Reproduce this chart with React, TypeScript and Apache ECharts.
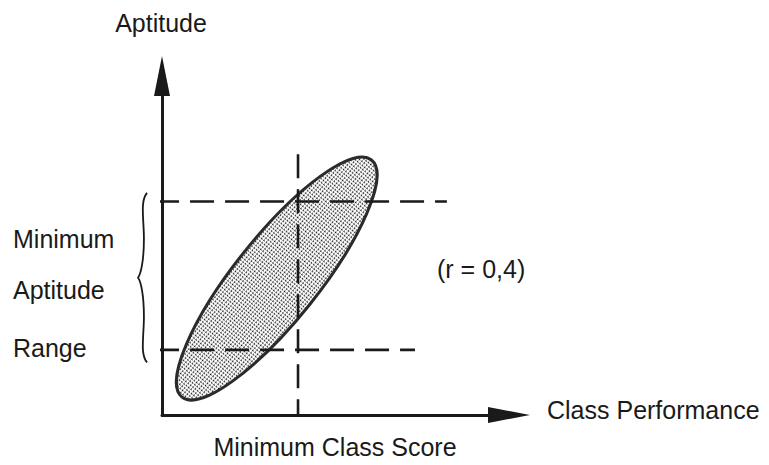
import React, { useEffect, useRef } from "react";
import * as echarts from "echarts";

// ---- data (chart units) ----
const xExtent = [0, 10];
const yExtent = [0, 10];
const minClassScore = 3.92;
const minClassLineTop = 7.69;
const rangeLow = 1.92;
const rangeHigh = 6.3;
const rangeLineStart = -0.2;
const rangeLowEnd = 7.29;
const rangeHighEnd = 8.21;
const ellipseCenter = [3.31, 4.03];
const ellipseMajorEnd = [6.04, 7.53];
const ellipseMinorHalf = 1.21;
const braceX = [-0.69, -0.43];
const braceY = [1.55, 6.55];

// ---- texts ----
const yAxisTitle = "Aptitude";
const xAxisTitle = "Class Performance";
const scoreLabel = "Minimum Class Score";
const corrLabel = "(r = 0,4)";
const leftLabels = ["Minimum", "Aptitude", "Range"];

const FONT = "'Liberation Sans', Arial, Helvetica, sans-serif";
const INK = "#1a1a1a";

function makeDotPattern() {
  const c = document.createElement("canvas");
  c.width = 3;
  c.height = 3;
  const ctx = c.getContext("2d")!;
  ctx.fillStyle = "#ffffff";
  ctx.fillRect(0, 0, 3, 3);
  ctx.fillStyle = "rgba(20,20,20,1)";
  ctx.fillRect(1, 1, 1, 1);
  ctx.fillStyle = "rgba(20,20,20,0.6)";
  ctx.fillRect(2, 1, 1, 1);
  ctx.fillRect(1, 2, 1, 1);
  return c;
}

export default function App() {
  const ref = useRef<HTMLDivElement>(null);

  useEffect(() => {
    document.body.style.margin = "0";
    const chart = echarts.init(ref.current!, null, { renderer: "svg" });
    const pattern = makeDotPattern();

    const dashStyle = { color: INK, width: 2.6, type: [24, 11] as any };

    const textEl = (text: string, x: number, y: number, align: string) => ({
      type: "text",
      x,
      y,
      style: {
        text,
        fill: INK,
        fontSize: 25,
        fontFamily: FONT,
        textAlign: align,
        textVerticalAlign: "middle",
      },
    });

    const leftY = [239, 290, 348];

    chart.setOption({
      animation: false,
      grid: { left: 162, top: 76, width: 347, height: 339 },
      xAxis: {
        type: "value",
        min: xExtent[0],
        max: xExtent[1],
        axisLine: {
          show: true,
          symbol: ["none", "triangle"],
          symbolSize: [16, 42],
          lineStyle: { color: INK, width: 3 },
        },
        axisTick: { show: false },
        axisLabel: { show: false },
        splitLine: { show: false },
      },
      yAxis: {
        type: "value",
        min: yExtent[0],
        max: yExtent[1],
        axisLine: {
          show: true,
          symbol: ["none", "triangle"],
          symbolSize: [16, 40],
          lineStyle: { color: INK, width: 3 },
        },
        axisTick: { show: false },
        axisLabel: { show: false },
        splitLine: { show: false },
      },
      series: [
        {
          type: "custom",
          z: 1,
          clip: false,
          data: [[ellipseCenter[0], ellipseCenter[1], ellipseMajorEnd[0], ellipseMajorEnd[1], ellipseMinorHalf]],
          renderItem: (params: any, api: any) => {
            const c = api.coord([api.value(0), api.value(1)]);
            const e = api.coord([api.value(2), api.value(3)]);
            const a = Math.hypot(e[0] - c[0], e[1] - c[1]);
            const ang = Math.atan2(c[1] - e[1], e[0] - c[0]);
            const b = api.size([api.value(4), 0])[0];
            return {
              type: "ellipse",
              shape: { cx: c[0], cy: c[1], rx: a, ry: b },
              rotation: ang,
              originX: c[0],
              originY: c[1],
              style: {
                fill: { image: pattern, repeat: "repeat" },
                stroke: "#2b2b2b",
                lineWidth: 3,
              },
            };
          },
        },
        {
          type: "custom",
          z: 2,
          clip: false,
          data: [[braceX[0], braceX[1], braceY[0], braceY[1]]],
          renderItem: (params: any, api: any) => {
            const pl = api.coord([api.value(0), api.value(2)]);
            const pt = api.coord([api.value(1), api.value(3)]);
            const L = pl[0];
            const R = pt[0];
            const bot = pl[1];
            const top = pt[1];
            const H = bot - top;
            const mid = (top + bot) / 2;
            const w = R - L;
            const d = [
              `M ${R} ${top}`,
              `C ${L + 0.2 * w} ${top + 0.05 * H} ${L + 0.65 * w} ${top + 0.15 * H} ${L + 0.65 * w} ${top + 0.27 * H}`,
              `C ${L + 0.65 * w} ${mid - 0.1 * H} ${L + 0.3 * w} ${mid - 0.02 * H} ${L} ${mid}`,
              `C ${L + 0.3 * w} ${mid + 0.02 * H} ${L + 0.65 * w} ${mid + 0.1 * H} ${L + 0.65 * w} ${bot - 0.27 * H}`,
              `C ${L + 0.65 * w} ${bot - 0.15 * H} ${L + 0.2 * w} ${bot - 0.05 * H} ${R} ${bot}`,
            ].join(" ");
            return {
              type: "path",
              shape: { pathData: d },
              style: { fill: "none", stroke: INK, lineWidth: 1.8 },
            };
          },
        },
        {
          type: "line",
          z: 3,
          clip: false,
          showSymbol: false,
          silent: true,
          lineStyle: dashStyle,
          data: [
            [minClassScore, minClassLineTop],
            [minClassScore, 0],
          ],
        },
        {
          type: "line",
          z: 3,
          clip: false,
          showSymbol: false,
          silent: true,
          lineStyle: dashStyle,
          data: [
            [rangeLineStart, rangeHigh],
            [rangeHighEnd, rangeHigh],
          ],
        },
        {
          type: "line",
          z: 3,
          clip: false,
          showSymbol: false,
          silent: true,
          lineStyle: dashStyle,
          data: [
            [rangeLineStart, rangeLow],
            [rangeLowEnd, rangeLow],
          ],
        },
      ],
      graphic: [
        textEl(yAxisTitle, 161, 23, "center"),
        textEl(xAxisTitle, 547, 410, "left"),
        textEl(scoreLabel, 335, 447, "center"),
        textEl(corrLabel, 437, 269, "left"),
        ...leftLabels.map((t, i) => textEl(t, 13, leftY[i], "left")),
      ],
    });

    return () => chart.dispose();
  }, []);

  return <div ref={ref} style={{ width: 769, height: 465 }} />;
}
